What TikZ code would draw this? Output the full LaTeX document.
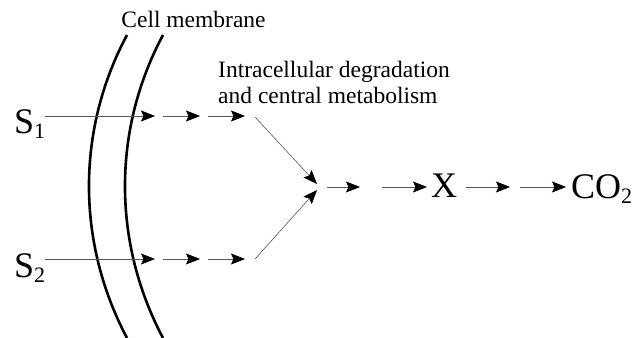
\documentclass[tikz,border=0pt]{standalone}
\usepackage{fontspec}
\setmainfont{Liberation Serif}
\usetikzlibrary{arrows.meta}
\newcommand\subtxt[1]{\raisebox{-5pt}{\fontsize{22}{22}\selectfont #1}}
\begin{document}
\begin{tikzpicture}[x=1pt,y=-1pt,
  arr/.style={draw=black!65, line width=0.6pt, -{Stealth[length=14pt,width=11pt,inset=2.5pt,color=black,fill=black]}},
  big/.style={font=\fontsize{36}{36}\selectfont, inner sep=0pt, anchor=base west},
  lab/.style={font=\fontsize{23.5}{26}\selectfont, inner sep=0pt},
  memb/.style={line width=2.6pt}]
\useasboundingbox[fill=white] (0,0) rectangle (639,337);

% membranes
\draw[memb] (127,35) .. controls (76.3,129.7) and (76.3,242.3) .. (127,338);
\draw[memb] (163,35) .. controls (112.3,129.7) and (112.3,242.3) .. (163,338);

% texts
\node[lab, anchor=base] (cm) at (193.5,28) {Cell membrane};
\node[lab, anchor=north west, align=left] (icm) at (218,61) {Intracellular degradation\\and central metabolism};

\node[big] (S1) at (14,133) {S\subtxt{1}};
\node[big] (S2) at (14,277) {S\subtxt{2}};
\node[big] (X) at (431,197) {X};
\node[big] (CO2) at (571,198) {CO\subtxt{2}};

% coordinates
\coordinate (a1) at (155,116);
\coordinate (a2s) at (163,116);
\coordinate (a2) at (200,116);
\coordinate (a3s) at (208,116);
\coordinate (a3) at (245,116);
\coordinate (d1) at (255,117);
\coordinate (m1) at (317,184);

\coordinate (e1) at (155,259);
\coordinate (e2s) at (163,259);
\coordinate (e2) at (200,259);
\coordinate (e3s) at (208,259);
\coordinate (e3) at (245,259);
\coordinate (d2) at (255,259);
\coordinate (m2) at (317,190);

\coordinate (b1s) at (327,187);
\coordinate (b1) at (360,187);
\coordinate (b2s) at (382,187);
\coordinate (c1) at (510,187);
\coordinate (c2s) at (520,187);

% S1 row
\draw[arr] (S1.east |- a1) -- (a1);
\draw[arr] (a2s) -- (a2);
\draw[arr] (a3s) -- (a3);
\draw[arr] (d1) -- (m1);
% S2 row
\draw[arr] (S2.east |- e1) -- (e1);
\draw[arr] (e2s) -- (e2);
\draw[arr] (e3s) -- (e3);
\draw[arr] (d2) -- (m2);
% main row
\draw[arr] (b1s) -- (b1);
\draw[arr, shorten >=4pt] (b2s) -- (b2s -| X.west);
\draw[arr, shorten <=9pt] (X.east |- c1) -- (c1);
\draw[arr, shorten >=5pt] (c2s) -- (c2s -| CO2.west);
\end{tikzpicture}
\end{document}
